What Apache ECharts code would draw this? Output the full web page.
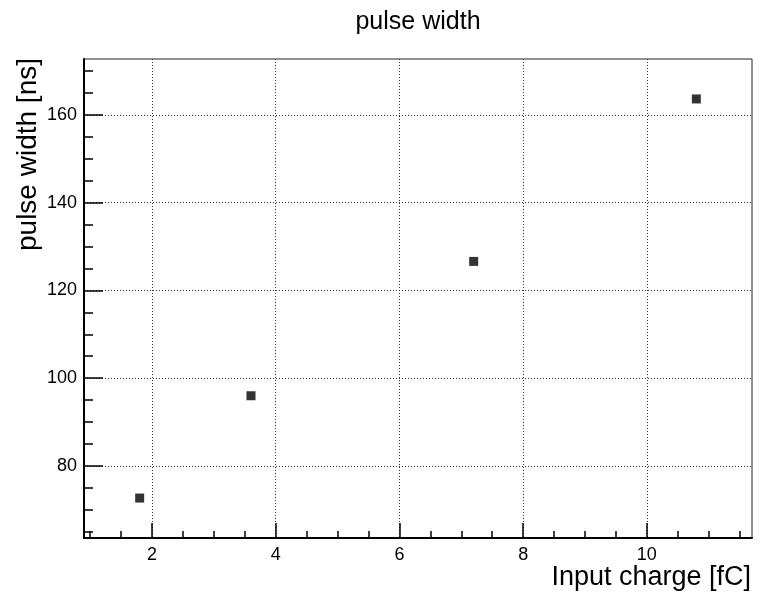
<!DOCTYPE html>
<html><head><meta charset="utf-8">
<script src="https://cdn.jsdelivr.net/npm/echarts@6/dist/echarts.min.js"></script>
<style>html,body{margin:0;padding:0;background:#fff}#c{width:760px;height:594px}</style>
</head><body><div id="c"></div>
<script>
const xValues = [1.8, 3.6, 7.2, 10.8];
const yValues = [72.7, 96.0, 126.6, 163.6];
const xMajorTicks = [2, 4, 6, 8, 10];
const xMinorTicks = [1, 1.5, 2.5, 3, 3.5, 4.5, 5, 5.5, 6.5, 7, 7.5, 8.5, 9, 9.5, 10.5, 11, 11.5];
const yMajorTicks = [80, 100, 120, 140, 160];
const yMinorTicks = [65, 70, 75, 85, 90, 95, 105, 110, 115, 125, 130, 135, 145, 150, 155, 165, 170];
const titleText = 'pulse width';
const xTitle = 'Input charge [fC]';
const yTitle = 'pulse width [ns]';

const FONT = '"Liberation Sans", Arial, Helvetica, sans-serif';
const XMIN = 0.9, XMAX = 11.7, YMIN = 63.6, YMAX = 172.7;
const chart = echarts.init(document.getElementById('c'), null, {renderer: 'canvas'});
const grid = {left: 84, right: 8, top: 59, bottom: 56, show: true, borderColor: '#222', borderWidth: 1, backgroundColor: 'transparent'};
const dotted = {color: '#333', width: 1, type: [1, 2]};
chart.setOption({
  animation: false,
  backgroundColor: '#fff',
  graphic: [
    {type: 'text', x: 418, y: 22, style: {text: titleText, font: '25px ' + FONT, fill: '#000', textAlign: 'center', textVerticalAlign: 'middle'}},
    {type: 'text', x: 751, y: 578, style: {text: xTitle, font: '27px ' + FONT, fill: '#000', textAlign: 'right', textVerticalAlign: 'middle'}},
    {type: 'text', x: 28, y: 58, rotation: Math.PI / 2, style: {text: yTitle, font: '28px ' + FONT, fill: '#000', textAlign: 'right', textVerticalAlign: 'middle'}}
  ],
  grid: grid,
  xAxis: [
    {type: 'value', min: XMIN, max: XMAX, position: 'bottom',
      axisLine: {show: true, onZero: false, lineStyle: {color: '#000', width: 2}},
      axisTick: {show: true, inside: true, length: 15, customValues: xMajorTicks, lineStyle: {color: '#000', width: 1.5}},
      axisLabel: {show: true, customValues: xMajorTicks, margin: 8, fontFamily: FONT, fontSize: 18, color: '#000'},
      splitLine: {show: true, lineStyle: dotted}},
    {type: 'value', min: XMIN, max: XMAX, position: 'bottom',
      axisLine: {show: false, onZero: false},
      axisTick: {show: true, inside: true, length: 7, customValues: xMinorTicks, lineStyle: {color: '#000', width: 1.5}},
      axisLabel: {show: false}, splitLine: {show: false}}
  ],
  yAxis: [
    {type: 'value', min: YMIN, max: YMAX, position: 'left',
      axisLine: {show: true, onZero: false, lineStyle: {color: '#000', width: 2}},
      axisTick: {show: true, inside: true, length: 19, customValues: yMajorTicks, lineStyle: {color: '#000', width: 1.5}},
      axisLabel: {show: true, customValues: yMajorTicks, margin: 7, fontFamily: FONT, fontSize: 18, color: '#000'},
      splitLine: {show: true, lineStyle: dotted}},
    {type: 'value', min: YMIN, max: YMAX, position: 'left',
      axisLine: {show: false, onZero: false},
      axisTick: {show: true, inside: true, length: 9, customValues: yMinorTicks, lineStyle: {color: '#000', width: 1.5}},
      axisLabel: {show: false}, splitLine: {show: false}}
  ],
  series: [{
    type: 'scatter', xAxisIndex: 0, yAxisIndex: 0,
    data: xValues.map((x, i) => [x, yValues[i]]),
    symbol: 'rect', symbolSize: 9,
    itemStyle: {color: '#000'}
  }]
});
</script></body></html>
